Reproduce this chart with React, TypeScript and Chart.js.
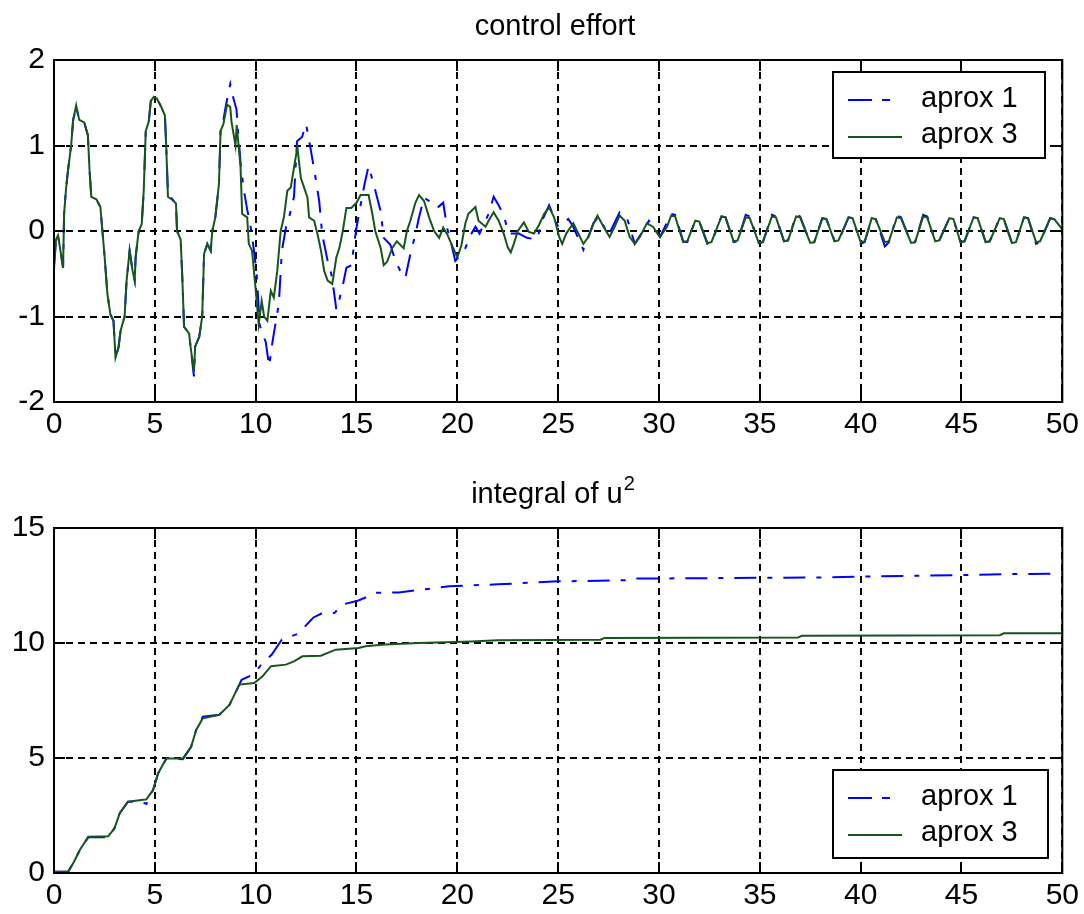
import React, { useEffect, useRef } from "react";
import { Chart, registerables } from "chart.js";
Chart.register(...registerables);

const FONT = '"Liberation Sans", Arial, sans-serif';
const GREEN = "#15561a";
const BLUE = "#0000ff";

const xTickValues = [0, 5, 10, 15, 20, 25, 30, 35, 40, 45, 50];
const effortTickValues = [-2, -1, 0, 1, 2];
const integralTickValues = [0, 5, 10, 15];
const seriesNames = ["aprox 1", "aprox 3"];

// control effort, aprox 3 (green)
const effortT3 = [
  0, 0.1, 0.2, 0.3, 0.45, 0.5, 0.6, 0.7, 0.85, 0.95, 1.1, 1.25, 1.5, 1.68, 1.76, 1.85, 2.1, 2.3, 2.4, 2.5,
  2.65, 2.8, 2.95, 3.05, 3.2, 3.3, 3.5, 3.6, 3.75, 3.9, 4.0, 4.05, 4.2, 4.35, 4.45, 4.55, 4.7, 4.8, 4.95, 5.1,
  5.32, 5.5, 5.56, 5.65, 5.9, 6.05, 6.1, 6.28, 6.36, 6.45, 6.7, 6.77, 6.94, 7.0, 7.2, 7.35, 7.44, 7.6, 7.77, 7.85,
  8.0, 8.18, 8.26, 8.4, 8.58, 8.74, 8.8, 9.0, 9.06, 9.25, 9.33, 9.58, 9.66, 9.82, 9.99, 10.15, 10.3, 10.42, 10.58, 10.75,
  10.9, 11.07, 11.24, 11.4, 11.57, 11.74, 11.9, 12.07, 12.24, 12.4, 12.57, 12.65, 12.9, 13.07, 13.24, 13.4, 13.57, 13.8, 14.0, 14.15,
  14.32, 14.5, 14.74, 15.0, 15.2, 15.6, 15.77, 15.93, 16.2, 16.35, 16.52, 16.77, 17.0, 17.34, 17.5, 17.67, 17.92, 18.1, 18.35, 18.6,
  18.85, 19.1, 19.3, 19.5, 19.85, 20.0, 20.2, 20.4, 20.55, 20.9, 21.05, 21.4, 21.55, 21.8, 22.05, 22.3, 22.5, 22.65, 22.8, 23.0,
  23.3, 23.55, 23.8, 24.05, 24.3, 24.55, 24.8, 25.05, 25.2, 25.4, 25.75, 26.0, 26.25, 26.5, 26.75, 26.95, 27.25, 27.55, 27.8, 28.05,
  28.3, 28.55, 28.8, 29.05, 29.4, 29.7, 30.05, 30.4,
  30.6, 30.8, 31.2, 31.4, 31.8, 32.0, 32.4, 32.6, 33.1, 33.3, 33.7, 33.9, 34.3, 34.5, 34.95, 35.15, 35.6, 35.8, 36.2, 36.4,
  36.8, 37.0, 37.5, 37.7, 38.1, 38.3, 38.7, 38.9, 39.4, 39.6, 40.0, 40.2, 40.55, 40.75, 41.2, 41.4, 41.8, 42.0, 42.5, 42.7,
  43.1, 43.3, 43.7, 43.9, 44.4, 44.6, 44.95, 45.15, 45.6, 45.8, 46.2, 46.4, 46.9, 47.1, 47.5, 47.7, 48.1, 48.3, 48.7, 48.9,
  49.4, 49.6, 50.0,
];
const effortU3 = [
  -0.45, -0.1, -0.05, -0.2, -0.43, 0.2, 0.5, 0.72, 1.0, 1.3, 1.47, 1.3, 1.27, 1.12, 0.72, 0.4, 0.37, 0.28, 0.0, -0.27,
  -0.74, -0.98, -1.05, -1.48, -1.36, -1.17, -1.0, -0.58, -0.23, -0.47, -0.58, -0.3, 0.0, 0.08, 0.47, 1.17, 1.28, 1.52, 1.57, 1.55,
  1.45, 1.35, 1.02, 0.4, 0.36, 0.32, 0.0, -0.1, -0.53, -1.12, -1.2, -1.35, -1.65, -1.35, -1.24, -1.0, -0.27, -0.15, -0.23, 0.0,
  0.16, 0.55, 1.17, 1.25, 1.48, 1.45, 1.28, 1.0, 1.24, 0.75, 0.2, 0.16, -0.15, -0.23, -0.66, -1.09, -0.82, -1.0, -1.05, -0.7,
  -0.78, -0.47, 0.0, 0.16, 0.47, 0.51, 0.74, 0.98, 0.62, 0.51, 0.39, 0.16, 0.12, -0.04, -0.23, -0.47, -0.58, -0.62, -0.31, -0.2,
  0.0, 0.27, 0.27, 0.33, 0.42, 0.42, 0.22, 0.0, -0.2, -0.4, -0.36, -0.2, -0.12, -0.2, 0.0, 0.12, 0.33, 0.42, 0.35, 0.16,
  0.0, -0.08, 0.04, -0.04, -0.23, -0.31, -0.17, 0.09, 0.2, 0.28, 0.12, 0.05, 0.12, 0.22, 0.12, -0.03, -0.19, -0.25, -0.15, 0.0,
  0.1, -0.01, -0.03, 0.07, 0.2, 0.28, 0.16, -0.07, -0.15, -0.03, 0.09, -0.03, -0.15, -0.07, 0.09, 0.18, 0.05, -0.07, 0.05, 0.18,
  0.12, -0.07, -0.15, -0.07, 0.09, 0.05, -0.07, 0.05,
  0.18, 0.17, -0.13, -0.12, 0.12, 0.11, -0.14, -0.13, 0.17, 0.16, -0.12, -0.11, 0.16, 0.15, -0.14, -0.13, 0.17, 0.16, -0.12, -0.11,
  0.17, 0.16, -0.14, -0.13, 0.15, 0.14, -0.12, -0.11, 0.16, 0.15, -0.13, -0.12, 0.15, 0.14, -0.13, -0.12, 0.16, 0.15, -0.14, -0.13,
  0.17, 0.16, -0.12, -0.11, 0.15, 0.14, -0.13, -0.12, 0.16, 0.15, -0.13, -0.12, 0.15, 0.14, -0.14, -0.13, 0.16, 0.15, -0.13, -0.12,
  0.15, 0.14, 0.02,
];

// control effort, aprox 1 (blue)
const effortT1 = [
  0, 0.1, 0.2, 0.3, 0.45, 0.5, 0.6, 0.7, 0.85, 0.95, 1.1, 1.25, 1.5, 1.68, 1.76, 1.85, 2.1, 2.3, 2.4, 2.5,
  2.65, 2.8, 2.95, 3.05, 3.2, 3.3, 3.5, 3.6, 3.75, 3.9, 4.0, 4.05, 4.2, 4.35, 4.45, 4.55, 4.7, 4.8, 4.95, 5.1,
  5.32, 5.5, 5.56, 5.65, 5.9, 6.05, 6.1, 6.28, 6.36, 6.45, 6.7, 6.77, 6.94, 7.0, 7.2, 7.35, 7.44, 7.6, 7.77, 7.85,
  8.0, 8.18, 8.26, 8.4, 8.55, 8.74, 8.9, 9.05, 9.15, 9.25, 9.4, 9.58, 9.75, 9.9, 10.05, 10.2, 10.35, 10.5, 10.67, 10.8,
  10.9, 11.15, 11.3, 11.5, 11.7, 11.9, 12.05, 12.3, 12.5, 12.74, 12.97, 13.15, 13.3, 13.57, 13.75, 13.9, 14.0, 14.15, 14.3, 14.5,
  14.75, 14.9, 15.03, 15.2, 15.4, 15.6, 15.85, 16.2, 16.35, 16.68, 16.93, 17.18, 17.42, 17.67, 17.92, 18.1, 18.35, 18.6, 19.0, 19.3,
  19.5, 19.7, 19.9, 20.1, 20.4, 20.65, 20.9, 21.1, 21.35, 21.55, 21.8, 22.05, 22.3, 22.55, 23.05, 23.45, 23.95, 24.2, 24.55, 25.0,
  25.5, 25.75, 26.25, 26.75, 27.0, 27.5, 28.05, 28.4, 28.8, 29.2, 29.5, 30.05,
  30.6, 30.8, 31.2, 31.4, 31.8, 32.0, 32.4, 32.6, 33.1, 33.3, 33.7, 33.9, 34.3, 34.5, 34.95, 35.15, 35.6, 35.8, 36.2, 36.4,
  36.8, 37.0, 37.5, 37.7, 38.1, 38.3, 38.7, 38.9, 39.4, 39.6, 40.0, 40.2, 40.55, 40.75, 41.2, 41.4, 41.8, 42.0, 42.5, 42.7,
  43.1, 43.3, 43.7, 43.9, 44.4, 44.6, 44.95, 45.15, 45.6, 45.8, 46.2, 46.4, 46.9, 47.1, 47.5, 47.7, 48.1, 48.3, 48.7, 48.9,
  49.4, 49.6, 50.0,
];
const effortU1 = [
  -0.4, -0.1, -0.05, -0.2, -0.43, 0.2, 0.5, 0.72, 1.0, 1.3, 1.45, 1.3, 1.27, 1.12, 0.72, 0.4, 0.37, 0.28, 0.0, -0.27,
  -0.74, -0.98, -1.05, -1.48, -1.36, -1.17, -1.0, -0.58, -0.23, -0.47, -0.58, -0.3, 0.0, 0.08, 0.47, 1.17, 1.28, 1.52, 1.57, 1.55,
  1.45, 1.35, 1.02, 0.45, 0.36, 0.32, 0.0, -0.1, -0.53, -1.12, -1.2, -1.35, -1.7, -1.35, -1.24, -1.0, -0.27, -0.15, -0.23, 0.0,
  0.16, 0.55, 1.17, 1.3, 1.5, 1.72, 1.55, 1.42, 1.1, 0.8, 0.5, 0.25, 0.05, -0.2, -0.5, -1.1, -1.2, -1.3, -1.58, -1.35,
  -1.2, -0.85, -0.23, 0.04, 0.2, 0.4, 1.05, 1.1, 1.25, 0.94, 0.62, 0.35, -0.04, -0.35, -0.5, -0.74, -0.92, -0.8, -0.66, -0.43,
  -0.4, -0.12, 0.08, 0.3, 0.55, 0.76, 0.55, 0.23, -0.08, -0.16, -0.35, -0.47, -0.55, -0.27, -0.04, 0.16, 0.39, 0.35, 0.27, 0.33,
  0.03, -0.15, -0.35, -0.3, -0.2, -0.05, 0.05, -0.03, 0.1, 0.2, 0.4, 0.3, 0.18, -0.03, -0.03, -0.08, -0.1, 0.12, 0.3, 0.05,
  0.14, 0.05, -0.22, 0.09, 0.17, -0.05, 0.22, 0.16, -0.15, 0.0, 0.12, -0.07,
  0.2, 0.19, -0.12, -0.13, 0.12, 0.11, -0.15, -0.14, 0.17, 0.16, -0.13, -0.12, 0.19, 0.17, -0.14, -0.13, 0.19, 0.17, -0.12, -0.11,
  0.19, 0.17, -0.14, -0.13, 0.15, 0.14, -0.11, -0.12, 0.16, 0.15, -0.15, -0.13, 0.15, 0.14, -0.18, -0.13, 0.18, 0.16, -0.14, -0.13,
  0.19, 0.17, -0.12, -0.11, 0.15, 0.14, -0.13, -0.12, 0.16, 0.15, -0.13, -0.12, 0.15, 0.14, -0.14, -0.13, 0.16, 0.15, -0.15, -0.13,
  0.15, 0.14, 0.02,
];

// integral of u^2, aprox 3 (green)
const integralT3 = [
  0, 0.7, 1.0, 1.28, 1.7, 2.69, 3.0, 3.26, 3.67, 4.33, 4.58, 4.91, 5.16, 5.57, 6.39, 6.8, 7.05, 7.38, 8.2, 8.7,
  9.19, 9.93, 10.34, 10.76, 11.5, 11.9, 12.32, 13.23, 13.97, 15.1, 15.45, 16.4, 18.1, 20.7, 22.0, 27.1, 27.3, 36.9, 37.1, 46.9,
  47.1, 50,
];
const integralJ3 = [
  0.05, 0.05, 0.5, 1.0, 1.58, 1.6, 1.94, 2.6, 3.1, 3.17, 3.2, 3.6, 4.33, 4.98, 4.98, 5.49, 6.22, 6.73, 6.88, 7.31,
  8.19, 8.26, 8.55, 8.99, 9.06, 9.2, 9.42, 9.45, 9.71, 9.78, 9.86, 9.93, 10.0, 10.07, 10.12, 10.14, 10.22, 10.24, 10.32, 10.34,
  10.42, 10.42,
];

// integral of u^2, aprox 1 (blue)
const integralT1 = [
  0, 0.7, 1.0, 1.28, 1.7, 2.69, 3.0, 3.26, 3.67, 4.33, 4.58, 4.91, 5.16, 5.57, 6.39, 6.8, 7.05, 7.38, 8.2, 8.7,
  9.19, 9.3, 9.93, 10.3, 10.8, 11.3, 12.1, 12.85, 13.3, 13.9, 14.3, 15.1, 16.0, 17.1, 18.75, 19.6, 22.0, 25.0, 28.5, 28.7,
  38.0, 40.0, 45.0, 47.8, 50,
];
const integralJ1 = [
  0.05, 0.05, 0.5, 1.0, 1.55, 1.55, 1.94, 2.6, 3.1, 3.1, 3.0, 3.6, 4.33, 4.98, 4.95, 5.49, 6.22, 6.8, 6.88, 7.31,
  8.19, 8.4, 8.65, 9.1, 9.5, 10.15, 10.4, 11.1, 11.3, 11.3, 11.67, 11.85, 12.18, 12.2, 12.37, 12.47, 12.55, 12.68, 12.73, 12.8,
  12.85, 12.89, 12.95, 13.0, 13.02,
];

const pts = (xs: number[], ys: number[]) => xs.map((x, i) => ({ x, y: ys[i] }));

type Leg = { x: number; y: number; w: number; h: number };
type FrameCfg = { title: string; sup?: string; cx: number; baseline: number; legend: Leg };

function framePlugin(cfg: FrameCfg) {
  return {
    id: "frame",
    afterDraw(chart: any) {
      const { ctx, chartArea: a, scales } = chart;
      const xs = scales.x;
      const ys = scales.y;
      ctx.save();
      ctx.setLineDash([]);
      ctx.strokeStyle = "#000";
      ctx.lineWidth = 2;
      const T = 11;
      ctx.beginPath();
      xs.ticks.forEach((t: any) => {
        const px = Math.round(xs.getPixelForValue(t.value));
        ctx.moveTo(px, a.bottom);
        ctx.lineTo(px, a.bottom - T);
        ctx.moveTo(px, a.top);
        ctx.lineTo(px, a.top + T);
      });
      ys.ticks.forEach((t: any) => {
        const py = Math.round(ys.getPixelForValue(t.value));
        ctx.moveTo(a.left, py);
        ctx.lineTo(a.left + T, py);
        ctx.moveTo(a.right, py);
        ctx.lineTo(a.right - T, py);
      });
      ctx.stroke();
      ctx.strokeRect(a.left, a.top, a.right - a.left, a.bottom - a.top);

      // title
      ctx.fillStyle = "#000";
      ctx.textBaseline = "alphabetic";
      ctx.textAlign = "left";
      ctx.font = `29px ${FONT}`;
      const w1 = ctx.measureText(cfg.title).width;
      let w2 = 0;
      if (cfg.sup) {
        ctx.font = `20px ${FONT}`;
        w2 = ctx.measureText(cfg.sup).width + 1;
      }
      const x0 = cfg.cx - (w1 + w2) / 2;
      ctx.font = `29px ${FONT}`;
      ctx.fillText(cfg.title, x0, cfg.baseline);
      if (cfg.sup) {
        ctx.font = `20px ${FONT}`;
        ctx.fillText(cfg.sup, x0 + w1 + 1, cfg.baseline - 13);
      }

      // legend
      const L = cfg.legend;
      ctx.fillStyle = "#fff";
      ctx.fillRect(L.x, L.y, L.w, L.h);
      ctx.strokeStyle = "#000";
      ctx.lineWidth = 2;
      ctx.strokeRect(L.x, L.y, L.w, L.h);
      const rows = [L.y + 28, L.y + 65];
      ctx.lineWidth = 2;
      ctx.strokeStyle = BLUE;
      ctx.setLineDash([24, 10, 8, 200]);
      ctx.beginPath();
      ctx.moveTo(L.x + 15, rows[0]);
      ctx.lineTo(L.x + 69, rows[0]);
      ctx.stroke();
      ctx.setLineDash([]);
      ctx.strokeStyle = GREEN;
      ctx.beginPath();
      ctx.moveTo(L.x + 15, rows[1]);
      ctx.lineTo(L.x + 69, rows[1]);
      ctx.stroke();
      ctx.fillStyle = "#000";
      ctx.font = `29px ${FONT}`;
      ctx.fillText(seriesNames[0], L.x + 88, L.y + 35);
      ctx.fillText(seriesNames[1], L.x + 88, L.y + 71);
      ctx.restore();
    },
  };
}

function makeChart(
  canvas: HTMLCanvasElement,
  opts: {
    blue: { x: number; y: number }[];
    green: { x: number; y: number }[];
    ymin: number;
    ymax: number;
    yticks: number[];
    padTop: number;
    axisH: number;
    xPad: number;
    frame: FrameCfg;
  }
) {
  return new Chart(canvas, {
    type: "line",
    data: {
      datasets: [
        {
          label: seriesNames[1],
          data: opts.green,
          borderColor: GREEN,
          borderWidth: 2,
          pointRadius: 0,
          tension: 0,
          order: 0,
        },
        {
          label: seriesNames[0],
          data: opts.blue,
          borderColor: BLUE,
          borderWidth: 2,
          borderDash: [22, 11, 5, 11],
          pointRadius: 0,
          tension: 0,
          order: 1,
        },
      ],
    },
    options: {
      animation: false,
      responsive: false,
      events: [],
      layout: { padding: { top: opts.padTop, right: 18, left: 0, bottom: 0 } },
      plugins: { legend: { display: false }, tooltip: { enabled: false }, title: { display: false } },
      scales: {
        x: {
          type: "linear",
          min: 0,
          max: 50,
          afterBuildTicks: (s: any) => {
            s.ticks = xTickValues.map((v) => ({ value: v }));
          },
          afterFit: (s: any) => {
            s.height = opts.axisH;
          },
          grid: { color: "#000", lineWidth: 2, drawTicks: false },
          border: { display: false, dash: [7, 5] },
          ticks: { color: "#000", font: { family: FONT, size: 30 }, padding: opts.xPad, maxRotation: 0 },
        },
        y: {
          type: "linear",
          min: opts.ymin,
          max: opts.ymax,
          afterBuildTicks: (s: any) => {
            s.ticks = opts.yticks.map((v) => ({ value: v }));
          },
          afterFit: (s: any) => {
            s.width = 54;
          },
          grid: { color: "#000", lineWidth: 2, drawTicks: false },
          border: { display: false, dash: [7, 5] },
          ticks: { color: "#000", font: { family: FONT, size: 30 }, padding: 9 },
        },
      },
    } as any,
    plugins: [framePlugin(opts.frame)],
  });
}

export default function App() {
  const topRef = useRef<HTMLCanvasElement>(null);
  const botRef = useRef<HTMLCanvasElement>(null);

  useEffect(() => {
    const c1 = makeChart(topRef.current!, {
      blue: pts(effortT1, effortU1),
      green: pts(effortT3, effortU3),
      ymin: -2,
      ymax: 2,
      yticks: effortTickValues,
      padTop: 60,
      axisH: 55,
      xPad: 5,
      frame: { title: "control effort", cx: 555, baseline: 35, legend: { x: 833, y: 72, w: 212, h: 86 } },
    });
    const c2 = makeChart(botRef.current!, {
      blue: pts(integralT1, integralJ1),
      green: pts(integralT3, integralJ3),
      ymin: 0,
      ymax: 15,
      yticks: integralTickValues,
      padTop: 71,
      axisH: 41,
      xPad: 5,
      frame: { title: "integral of u", sup: "2", cx: 553, baseline: 46, legend: { x: 833, y: 313, w: 215, h: 88 } },
    });
    return () => {
      c1.destroy();
      c2.destroy();
    };
  }, []);

  return (
    <div style={{ position: "absolute", left: 0, top: 0, width: 1084, height: 914, background: "#fff" }}>
      <canvas ref={topRef} width={1084} height={457} style={{ position: "absolute", left: 0, top: 0, width: 1084, height: 457 }} />
      <canvas ref={botRef} width={1084} height={457} style={{ position: "absolute", left: 0, top: 457, width: 1084, height: 457 }} />
    </div>
  );
}
